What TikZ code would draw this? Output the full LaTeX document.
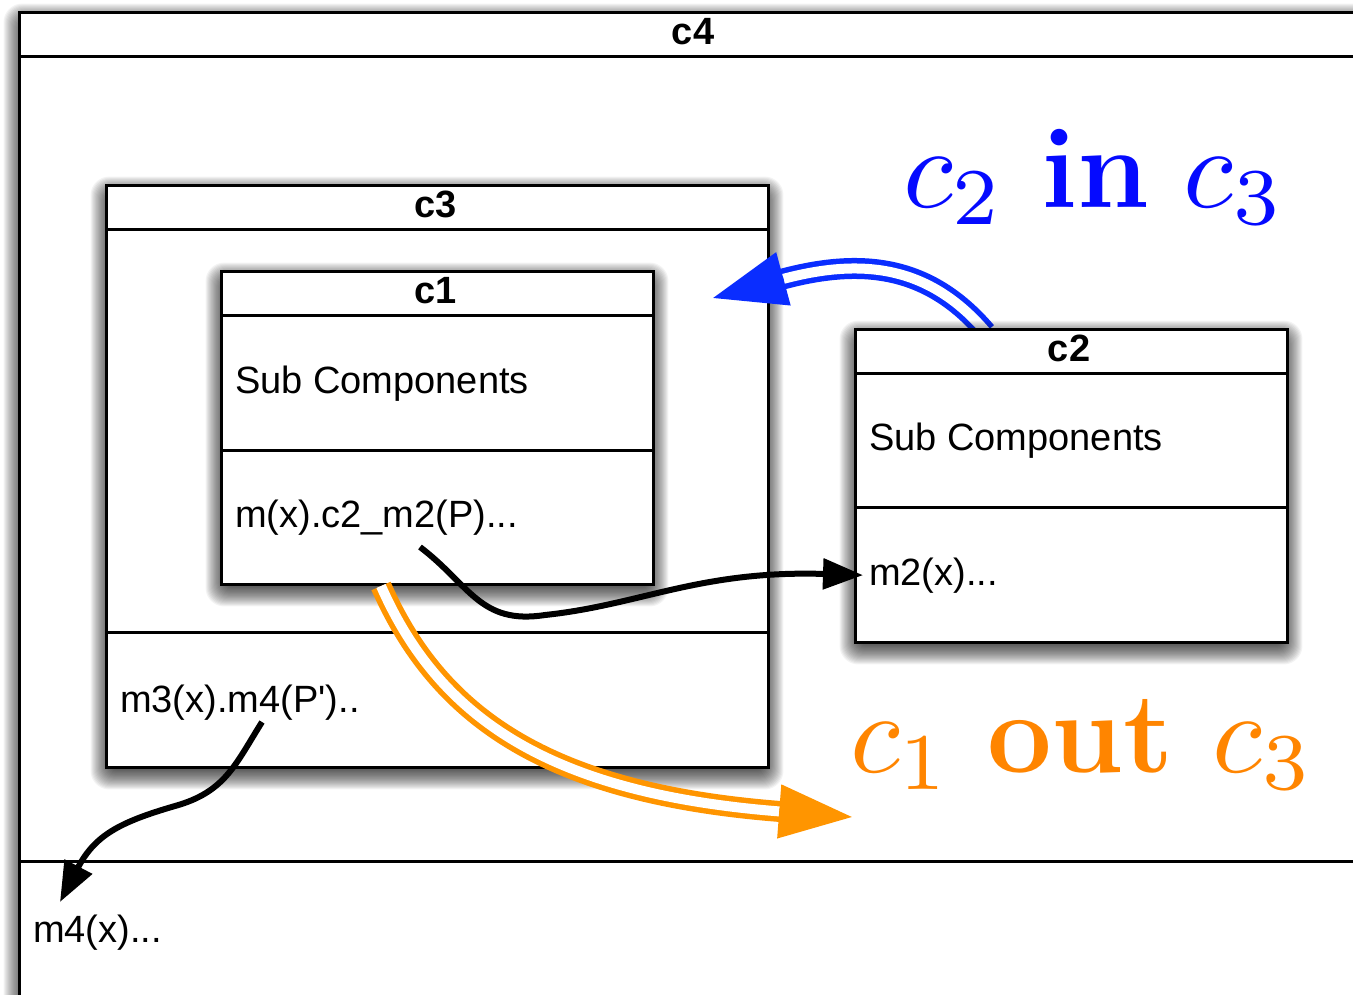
\documentclass[tikz,border=0pt]{standalone}
\usepackage{fix-cm}
\usepackage{fontspec}
\newfontfamily\umlfont[Ligatures=TeXOff]{Liberation Sans}
\usetikzlibrary{arrows.meta,calc}
% scaled 10pt / 7pt designs for the large formula labels
\DeclareFontShape{OML}{cmm}{m}{it}{<->cmmi10}{}
\DeclareFontShape{OT1}{cmr}{m}{n}{<->cmr7}{}

\definecolor{inblue}{RGB}{10,45,255}
\definecolor{intext}{RGB}{5,10,255}
\definecolor{outorange}{RGB}{255,149,0}
\definecolor{outtext}{RGB}{255,133,0}

% soft drop shadow under the box (x0,y0)-(x1,y1): stacked translucent layers
\newcommand\dropsoftshadow[4]{%
  \foreach \k in {1,...,30}{%
    \pgfmathsetmacro\e{16-32*(\k-0.5)/30}%
    \pgfmathsetmacro\rc{max(0.5,(\e+16)*0.6)}%
    \fill[black,opacity=0.0452,rounded corners=\rc pt]
      ({#1+1-\e},{#2+8-\e}) rectangle ({#3+1+\e},{#4+8+\e});
  }%
}

\begin{document}
\begin{tikzpicture}[x=1pt,y=-1pt,line join=miter,
  umlbox/.style={draw=black,line width=3pt,fill=white,
      anchor=north west,inner sep=0pt},
  sepline/.style={line width=3pt},
  boxtitle/.style={font=\umlfont\bfseries\fontsize{38}{44}\selectfont,
      anchor=base,inner sep=0pt},
  boxmember/.style={font=\umlfont\fontsize{38}{44}\selectfont,
      anchor=base west,inner sep=0pt},
  callarrow/.style={line width=6pt,-{Triangle[length=40pt,width=30pt]}},
  bigtext/.style={font=\fontsize{115}{120}\selectfont,anchor=base west,inner sep=0pt},
  flowline/.style={line width=5.5pt,double=white,double distance=10pt},
]
\useasboundingbox (0,0) rectangle (1353,994);
\clip (0,0) rectangle (1353,994);

% outer component c4
\dropsoftshadow{18}{11}{1368}{1000}
\node[umlbox,minimum width=1350pt,minimum height=989pt] (c4) at (18,11) {};
\draw[sepline] ([yshift=-45pt]c4.north west) -- ([yshift=-45pt]c4.north east);
\draw[sepline] ([yshift=-850pt]c4.north west) -- ([yshift=-850pt]c4.north east);
\node[boxtitle] (c4t) at (693,44) {c4};
\node[boxmember] (c4m) at (33,942) {m4(x)...};

% component c3
\dropsoftshadow{105}{184}{767}{766}
\node[umlbox,minimum width=662pt,minimum height=582pt] (c3) at (105,184) {};
\draw[sepline] ([yshift=-45pt]c3.north west) -- ([yshift=-45pt]c3.north east);
\draw[sepline] ([yshift=-448pt]c3.north west) -- ([yshift=-448pt]c3.north east);
\node[boxtitle] (c3t) at (436,217) {c3};
\node[boxmember] (c3m) at (120,712) {m3(x).m4(P\textquotesingle)..};

% component c1 inside c3
\dropsoftshadow{220}{270}{652}{583}
\node[umlbox,minimum width=432pt,minimum height=313pt] (c1) at (220,270) {};
\draw[sepline] ([yshift=-45pt]c1.north west) -- ([yshift=-45pt]c1.north east);
\draw[sepline] ([yshift=-180pt]c1.north west) -- ([yshift=-180pt]c1.north east);
\node[boxtitle] (c1t) at (436,303) {c1};
\node[boxmember] (c1s) at (235,393) {Sub Components};
\node[boxmember] (c1m) at (235,527) {m(x).c2\_m2(P)...};

% c2 moves into c3 (shaft drawn before c2 so the box covers its start)
\coordinate (inS) at (986,332);
\coordinate (inA) at (928,264);
\coordinate (inB) at (860,258);
\coordinate (inT) at (713,298);
\draw[flowline,draw=inblue,shorten >=70pt] (inS) .. controls (inA) and (inB) .. (inT);
\draw[inblue,line width=5pt,-{Triangle[length=73pt,width=54pt]}]
  ($(inT)!73pt!(inB)$) -- (inT);

% component c2
\dropsoftshadow{854}{328}{1286}{641}
\node[umlbox,minimum width=432pt,minimum height=313pt] (c2) at (854,328) {};
\draw[sepline] ([yshift=-45pt]c2.north west) -- ([yshift=-45pt]c2.north east);
\draw[sepline] ([yshift=-179pt]c2.north west) -- ([yshift=-179pt]c2.north east);
\node[boxtitle] (c2t) at (1069,361) {c2};
\node[boxmember] (c2s) at (869,450) {Sub Components};
\node[boxmember] (c2m) at (869,585) {m2(x)...};

% method calls
\draw[callarrow] ([xshift=185pt,yshift=-20pt]c1m.base west)
  .. controls (470,585) and (480,625) .. (545,615)
  .. controls (640,605) and (700,570) .. ([xshift=-6pt]c2m.west);
\draw[callarrow] ([xshift=142pt,yshift=-10pt]c3m.base west)
  .. controls (235,765) and (225,792) .. (175,806)
  .. controls (120,822) and (95,835) .. ([xshift=27pt,yshift=40pt]c4m.base west);

% c1 moves out of c3
\coordinate (outS) at ([xshift=161pt]c1.south west);
\coordinate (outA) at (440,720);
\coordinate (outB) at (552,794);
\coordinate (outT) at (852,817);
\draw[flowline,draw=outorange,shorten >=70pt] (outS) .. controls (outA) and (outB) .. (outT);
\draw[outorange,line width=5pt,-{Triangle[length=73pt,width=53pt]}]
  ($(outT)!73pt!(outB)$) -- (outT);

% labels
\node[bigtext,text=intext] (inlabel) at (903,207)
  {$c_2$\hspace{7pt} \textbf{in} $c_3$};
\node[bigtext,text=outtext] (outlabel) at (850,772)
  {$c_1$\hspace{6pt} \textbf{out}\hspace{4pt} $c_3$};
\end{tikzpicture}
\end{document}
